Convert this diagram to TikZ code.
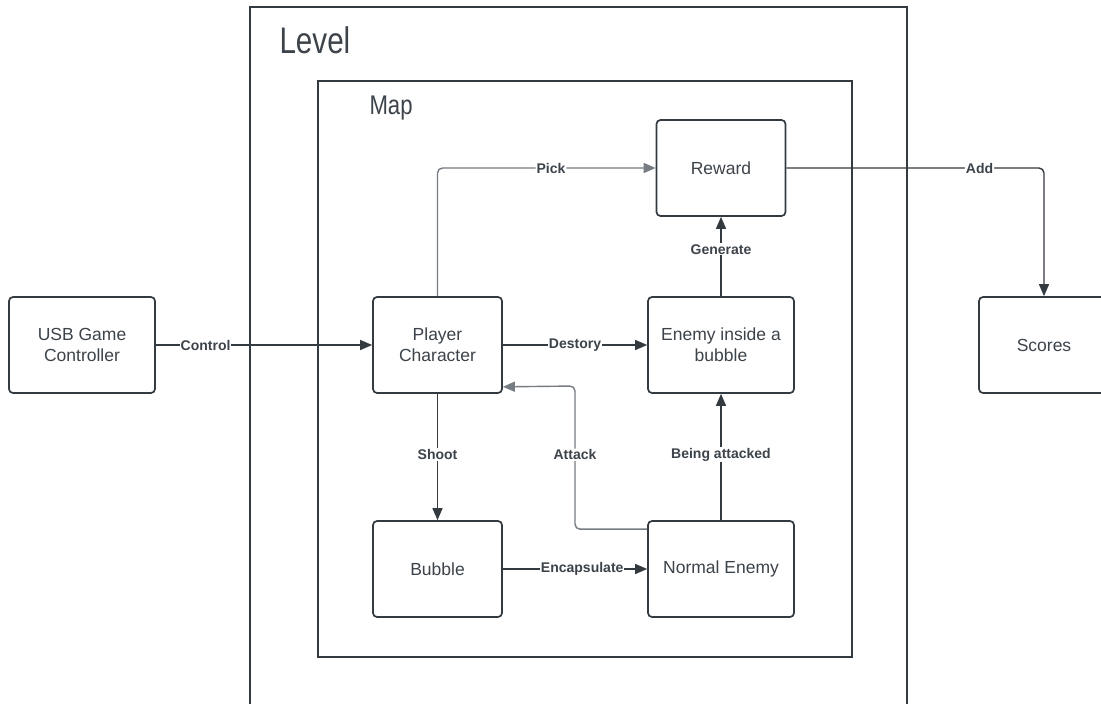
\documentclass[tikz,border=0pt]{standalone}
\usepackage{fontspec}
\setmainfont{Liberation Sans}
\usetikzlibrary{arrows.meta,positioning,calc}
\definecolor{ink}{HTML}{333A40}
\definecolor{txt}{HTML}{3C434A}
\definecolor{soft}{HTML}{767C82}
\tikzset{
  box/.style={draw=ink, line width=1.7pt, rounded corners=4pt, fill=white,
    minimum width=#1, minimum height=96pt, align=center, text=txt,
    font=\fontsize{17.5}{21}\selectfont, inner sep=2pt},
  box/.default=129pt,
  arr/.style={draw=ink, line width=1.4pt, -{Triangle[length=12pt,width=10pt]}},
  softarr/.style={draw=soft, line width=1.4pt, rounded corners=5pt, -{Triangle[length=12pt,width=10pt]}},
  lbl/.style={fill=white, text=txt, inner sep=1pt, font=\bfseries\fontsize{14}{16}\selectfont},
  frame/.style={draw=ink, line width=1.8pt}
}
\begin{document}
\begin{tikzpicture}[x=1pt,y=-1pt]
\useasboundingbox (0,0) rectangle (1101,704);
\clip (0,0) rectangle (1101,704);
\fill[white] (0,0) rectangle (1101,704);
% Level frame (open at the bottom)
\draw[frame] (250,720) -- (250,7) -- (907,7) -- (907,720);
\node[text=txt, anchor=west, font=\fontsize{37}{40}\selectfont] (leveltitle) at (276,40) {\scalebox{0.8}[1]{Level}};
% Map frame
\node[frame, minimum width=534pt, minimum height=576pt, anchor=north west, inner sep=0pt] (map) at (317,80) {};
\node[text=txt, anchor=west, font=\fontsize{27}{30}\selectfont] (maptitle) at (366,108) {\scalebox{0.82}[1]{Map}};
% nodes
\node[box=146pt] (usb) at (82,345) {USB Game\\Controller};
\node[box] (player) at (437.5,345) {Player\\Character};
\node[box=146pt] (bubenemy) at (721,345) {Enemy inside a\\bubble};
\node[box] (reward) at (721,168) {Reward};
\node[box=130pt] (scores) at (1044,345) {Scores};
\node[box] (bubble) at (437.5,569) {Bubble};
\node[box=146pt] (normal) at (721,569) {Normal Enemy};
\coordinate (attk) at (575,386);
% connectors
\draw[arr] (usb) -- node[lbl, pos=0.23] {Control} (player);
\draw[softarr] (player.north) |- node[lbl, pos=0.76] {Pick} (reward.west);
\draw[arr, rounded corners=5pt] (reward.east) -| node[lbl, pos=0.375] {Add} (scores.north);
\draw[arr] (bubenemy) -- node[lbl, pos=0.59] {Generate} (reward);
\draw[arr] (player) -- node[lbl, pos=0.5] {Destory} (bubenemy);
\draw[arr] (player) -- node[lbl, pos=0.48] {Shoot} (bubble);
\draw[arr] (normal) -- node[lbl, pos=0.52] {Being attacked} (bubenemy);
\draw[arr] (bubble) -- node[lbl, pos=0.55] {Encapsulate} (normal);
\draw[softarr] ([yshift=-9pt]normal.north west) -| node[lbl, pos=0.76] {Attack} (attk) -- ([yshift=7pt]player.south east);
\end{tikzpicture}
\end{document}
